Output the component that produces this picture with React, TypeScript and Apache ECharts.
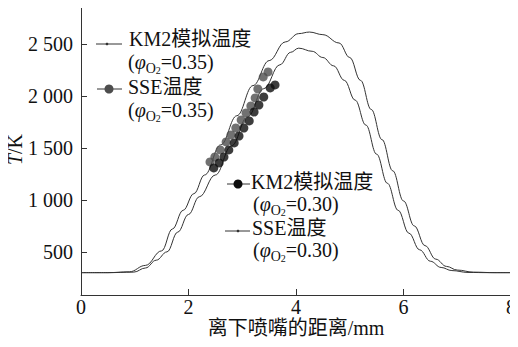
import React, { useEffect, useRef } from "react";
import * as echarts from "echarts";

// Simulated / measured temperature curves (x in mm, T in K)
const upperX = [0, 0.5, 0.9, 1.2, 1.5, 1.7, 1.9, 2.1, 2.3, 2.6, 2.9, 3.2, 3.5, 3.8, 4.05, 4.25, 4.5, 4.8, 5.0, 5.2, 5.4, 5.6, 5.8, 6.0, 6.2, 6.4, 6.6, 6.8, 7.0, 7.3, 7.7, 8.0];
const upperT = [300, 300, 308, 370, 510, 720, 900, 1060, 1240, 1530, 1810, 2100, 2340, 2520, 2600, 2615, 2590, 2510, 2370, 2150, 1870, 1580, 1280, 990, 750, 560, 430, 360, 325, 305, 300, 300];

const lowerX = [0, 0.5, 0.98, 1.2, 1.4, 1.6, 1.8, 2.0, 2.2, 2.5, 2.8, 3.1, 3.4, 3.7, 3.9, 4.05, 4.3, 4.5, 4.7, 4.9, 5.1, 5.3, 5.5, 5.7, 5.9, 6.1, 6.3, 6.5, 6.7, 6.9, 7.2, 7.6, 8.0];
const lowerT = [300, 300, 305, 345, 420, 500, 690, 860, 1030, 1240, 1520, 1800, 2070, 2300, 2420, 2460, 2430, 2370, 2290, 2150, 1960, 1720, 1440, 1160, 900, 680, 520, 410, 350, 320, 302, 300, 300];

const grayX = [2.40, 2.49, 2.59, 2.70, 2.79, 2.88, 2.98, 3.07, 3.16, 3.24, 3.29, 3.39, 3.48];
const grayT = [1365, 1413, 1481, 1558, 1625, 1692, 1769, 1837, 1904, 1981, 2067, 2183, 2231];

const blackX = [2.47, 2.57, 2.66, 2.75, 2.85, 2.94, 3.03, 3.13, 3.22, 3.31, 3.40, 3.52, 3.61];
const blackT = [1308, 1356, 1413, 1481, 1548, 1615, 1692, 1760, 1846, 1913, 1990, 2077, 2106];

const yTicks = [500, 1000, 1500, 2000, 2500];
const xTicks = [0, 2, 4, 6, 8];

const SERIF = "'Liberation Serif', 'Times New Roman', 'Noto Sans CJK SC', serif";
const LABEL = "KM2模拟温度";
const LABEL_SSE = "SSE温度";

const zip = (xs: number[], ys: number[]) => xs.map((x, i) => [x, ys[i]]);

const fmt = (v: number) =>
  v >= 1000 ? `${Math.floor(v / 1000)} ${String(v % 1000).padStart(3, "0")}` : String(v);

const rich = {
  n: { fontSize: 20, lineHeight: 26, fontFamily: SERIF, fill: "#111" },
  i: { fontSize: 20, lineHeight: 26, fontFamily: SERIF, fontStyle: "italic", fill: "#111" },
  s: { fontSize: 14, lineHeight: 18, fontFamily: SERIF, verticalAlign: "bottom", fill: "#111" },
  ss: { fontSize: 10, lineHeight: 9, fontFamily: SERIF, verticalAlign: "bottom", fill: "#111" },
};

const phiText = (v: string) => `{n|(}{i|φ}{s|O}{ss|2}{n|=${v})}`;

function textEl(text: string, x: number, y: number) {
  return {
    type: "text",
    x,
    y,
    style: {
      text,
      rich,
      fontSize: 20,
      fontFamily: SERIF,
      fill: "#111",
      verticalAlign: "middle",
      align: "left",
    },
    z: 10,
  };
}

function legendIcon(x1: number, x2: number, y: number, dx: number, r: number, color: string) {
  return [
    { type: "line", shape: { x1, y1: y, x2, y2: y }, style: { stroke: "#333", lineWidth: 1 }, z: 10 },
    { type: "circle", shape: { cx: dx, cy: y, r }, style: { fill: color }, z: 10 },
  ];
}

export default function App() {
  const ref = useRef<HTMLDivElement>(null);
  useEffect(() => {
    if (!ref.current) return;
    const chart = echarts.init(ref.current, null, { renderer: "svg" });
    chart.setOption({
      animation: false,
      backgroundColor: "#fff",
      grid: { left: 81, right: 7, top: 4, bottom: 52, containLabel: false, outerBoundsMode: "none" },
      xAxis: {
        type: "value",
        min: 0,
        max: 8,
        interval: 2,
        name: "离下喷嘴的距离/mm",
        nameLocation: "middle",
        nameGap: 23,
        nameMoveOverlap: false,
        nameTextStyle: { fontSize: 20, fontFamily: SERIF, color: "#111" },
        axisLine: { show: true, lineStyle: { color: "#333", width: 1 } },
        axisTick: { show: true, inside: true, length: 6, lineStyle: { color: "#333" } },
        axisLabel: { fontSize: 20, fontFamily: SERIF, color: "#111", margin: 2, customValues: xTicks },
        splitLine: { show: false },
      },
      yAxis: {
        type: "value",
        min: 85,
        max: 2885,
        name: "{i|T}{n|/K}",
        nameLocation: "middle",
        nameGap: 56,
        nameMoveOverlap: false,
        nameRotate: 90,
        nameTextStyle: {
          fontSize: 20,
          fontFamily: SERIF,
          color: "#111",
          rich: {
            i: { fontSize: 20, fontFamily: SERIF, fontStyle: "italic", color: "#111" },
            n: { fontSize: 20, fontFamily: SERIF, color: "#111" },
          },
        },
        axisLine: { show: true, lineStyle: { color: "#333", width: 1 } },
        axisTick: { show: true, inside: true, length: 6, lineStyle: { color: "#333" }, customValues: yTicks },
        axisLabel: {
          fontSize: 20,
          fontFamily: SERIF,
          color: "#111",
          margin: 8,
          customValues: yTicks,
          formatter: (v: number) => fmt(v),
        },
        splitLine: { show: false },
      },
      series: [
        {
          name: "KM2模拟温度 (φO2=0.35)",
          type: "line",
          data: zip(upperX, upperT),
          smooth: 0.4,
          smoothMonotone: "x",
          symbol: "none",
          lineStyle: { color: "#333", width: 1 },
        },
        {
          name: "SSE温度 (φO2=0.35)",
          type: "scatter",
          data: zip(grayX, grayT),
          symbol: "circle",
          symbolSize: 9,
          itemStyle: { color: "#4d4d4d" },
          z: 5,
        },
        {
          name: "KM2模拟温度 (φO2=0.30)",
          type: "scatter",
          data: zip(blackX, blackT),
          symbol: "circle",
          symbolSize: 9,
          itemStyle: { color: "#0d0d0d" },
          z: 6,
        },
        {
          name: "SSE温度 (φO2=0.30)",
          type: "line",
          data: zip(lowerX, lowerT),
          smooth: 0.4,
          smoothMonotone: "x",
          symbol: "none",
          lineStyle: { color: "#333", width: 1 },
        },
      ],
      graphic: [
        ...legendIcon(96, 122, 44, 107, 1.3, "#333"),
        textEl(LABEL, 129, 39),
        textEl(phiText("0.35"), 128, 62),
        ...legendIcon(97, 122, 89, 109, 4.5, "#4d4d4d"),
        textEl(LABEL_SSE, 128, 87),
        textEl(phiText("0.35"), 128, 110),
        ...legendIcon(227, 250, 184, 238, 4.5, "#0d0d0d"),
        textEl(LABEL, 251, 182),
        textEl(phiText("0.30"), 253, 204),
        ...legendIcon(225, 250, 231, 238, 1.3, "#333"),
        textEl(LABEL_SSE, 252, 228),
        textEl(phiText("0.30"), 253, 250),
      ],
    });
    return () => chart.dispose();
  }, []);
  return <div ref={ref} style={{ width: 518, height: 347, margin: -8 }} />;
}
